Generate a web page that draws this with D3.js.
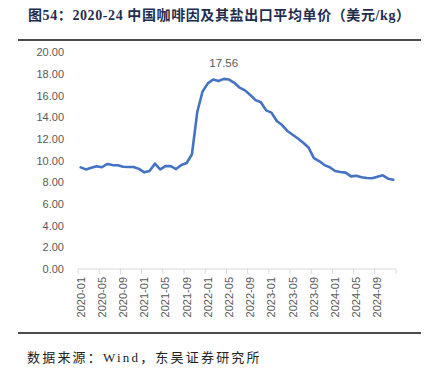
<!DOCTYPE html>
<html>
<head>
<meta charset="utf-8">
<title>咖啡因出口平均单价</title>
<script src="https://cdn.jsdelivr.net/npm/d3@7"></script>
<style>
  body { margin: 0; background: #fff; }
</style>
</head>
<body>
<script>
// monthly average export price, 2020-01 .. 2024-12 (USD/kg)
var months = [];
for (var y = 2020; y <= 2024; y++) {
    for (var m = 1; m <= 12; m++) months.push(y + "-" + (m < 10 ? "0" + m : m));
}
var prices = [
    9.39, 9.20, 9.35, 9.50, 9.40, 9.70, 9.60, 9.58, 9.45, 9.42, 9.42, 9.25,
    8.93, 9.05, 9.73, 9.20, 9.50, 9.50, 9.23, 9.60, 9.79, 10.60, 14.50, 16.40,
    17.15, 17.50, 17.36, 17.56, 17.50, 17.20, 16.75, 16.50, 16.07, 15.60, 15.40, 14.65,
    14.45, 13.67, 13.30, 12.75, 12.40, 12.05, 11.66, 11.22, 10.25, 9.97, 9.60, 9.40,
    9.05, 8.96, 8.90, 8.56, 8.62, 8.47, 8.40, 8.38, 8.52, 8.65, 8.34, 8.25
];
var yTicks = [0, 2, 4, 6, 8, 10, 12, 14, 16, 18, 20];
var titleText = "图54：2020-24 中国咖啡因及其盐出口平均单价（美元/kg）";
var sourceText = "数据来源：Wind，东吴证券研究所";

var W = 432, H = 372;
var svg = d3.select("body").append("svg")
    .attr("width", W)
    .attr("height", H);

// title + rules
svg.append("text")
    .attr("x", 28)
    .attr("y", 20)
    .style("font-family", "'Liberation Serif', 'Noto Sans CJK SC', serif")
    .style("font-weight", "bold")
    .style("font-size", "14px")
    .style("letter-spacing", "0.6px")
    .style("fill", "#1f2d4d")
    .text(titleText);

svg.append("line")
    .attr("x1", 18).attr("x2", 421)
    .attr("y1", 40).attr("y2", 40)
    .style("stroke", "#111").style("stroke-width", 1.6);

svg.append("line")
    .attr("x1", 18).attr("x2", 421)
    .attr("y1", 333).attr("y2", 333)
    .style("stroke", "#111").style("stroke-width", 1.6);

svg.append("text")
    .attr("x", 27)
    .attr("y", 362)
    .style("font-family", "'Liberation Serif', 'Noto Sans CJK SC', serif")
    .style("font-size", "13px")
    .style("letter-spacing", "2.2px")
    .style("fill", "#222")
    .text(sourceText);

// plot
var x0 = 78, x1 = 396, yTop = 52.5, yBot = 269;

var x = d3.scaleBand()
    .domain(months)
    .range([x0, x1])
    .padding(0);

var y = d3.scaleLinear()
    .domain([0, 20])
    .range([yBot, yTop]);

var axisFont = "'Liberation Sans', Arial, sans-serif";

// y labels (no axis line)
svg.append("g")
    .selectAll("text")
    .data(yTicks)
    .join("text")
    .attr("x", 64)
    .attr("y", function(d) { return y(d); })
    .attr("dy", "0.35em")
    .attr("text-anchor", "end")
    .style("font-family", axisFont)
    .style("font-size", "11px")
    .style("fill", "#595959")
    .text(function(d) { return d.toFixed(2); });

// x axis line and tick marks between categories
var gx = svg.append("g");
gx.append("line")
    .attr("x1", x0).attr("x2", x1)
    .attr("y1", yBot).attr("y2", yBot)
    .style("stroke", "#d9d9d9");

var tickIdx = d3.range(0, months.length + 1, 4);
gx.selectAll("line.tk")
    .data(tickIdx)
    .join("line")
    .attr("class", "tk")
    .attr("x1", function(i) { return x0 + i * x.step(); })
    .attr("x2", function(i) { return x0 + i * x.step(); })
    .attr("y1", yBot).attr("y2", yBot + 5)
    .style("stroke", "#d9d9d9");

var labelMonths = months.filter(function(d, i) { return i % 4 === 0; });
gx.selectAll("text")
    .data(labelMonths)
    .join("text")
    .attr("transform", function(d) {
        return "translate(" + (x(d) + x.bandwidth() / 2) + "," + (yBot + 8) + ") rotate(-90)";
    })
    .attr("dy", "0.35em")
    .attr("text-anchor", "end")
    .style("font-family", axisFont)
    .style("font-size", "11px")
    .style("fill", "#595959")
    .text(function(d) { return d; });

// line
var line = d3.line()
    .x(function(d, i) { return x(months[i]) + x.bandwidth() / 2; })
    .y(function(d) { return y(d); });

svg.append("path")
    .datum(prices)
    .attr("d", line)
    .style("fill", "none")
    .style("stroke", "#4472c4")
    .style("stroke-width", 2.6)
    .style("stroke-linejoin", "round")
    .style("stroke-linecap", "round");

// peak label
var peak = d3.maxIndex(prices);
svg.append("text")
    .attr("x", x(months[peak]) + x.bandwidth() / 2)
    .attr("y", y(prices[peak]) - 12)
    .attr("text-anchor", "middle")
    .style("font-family", axisFont)
    .style("font-size", "11.5px")
    .style("fill", "#595959")
    .text(prices[peak].toFixed(2));
</script>
</body>
</html>
